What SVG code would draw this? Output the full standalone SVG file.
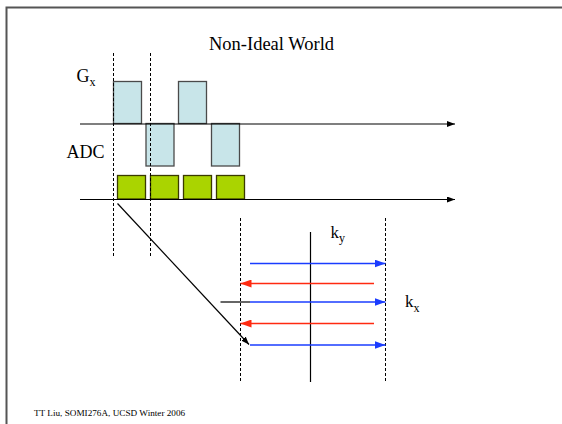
<svg xmlns="http://www.w3.org/2000/svg" width="562" height="424" viewBox="0 0 562 424">
  <defs>
    <marker id="arrBlack" markerWidth="8" markerHeight="6" refX="8" refY="3" orient="auto" markerUnits="userSpaceOnUse">
      <path d="M0,0 L8,3 L0,6 Z" fill="#000"/>
    </marker>
    <marker id="arrBlue" markerWidth="11" markerHeight="8" refX="11" refY="4" orient="auto" markerUnits="userSpaceOnUse">
      <path d="M0,0 L11,4 L0,8 Z" fill="#1a3cff"/>
    </marker>
    <marker id="arrRed" markerWidth="11" markerHeight="8" refX="11" refY="4" orient="auto" markerUnits="userSpaceOnUse">
      <path d="M0,0 L11,4 L0,8 Z" fill="#ff2a10"/>
    </marker>
    <style>
      text { font-family: "Liberation Serif", "Times New Roman", serif; fill: #000; }
      .grad { fill: #c8e5e9; stroke: #4a4a4a; stroke-width: 1.3; }
      .adc { fill: #aad400; stroke: #3a3a00; stroke-width: 1.3; }
      .axis { stroke: #000; stroke-width: 1.2; fill: none; }
      .dash { stroke: #000; stroke-width: 1; stroke-dasharray: 3 2; fill: none; }
      .blue { stroke: #1a3cff; stroke-width: 1.6; fill: none; marker-end: url(#arrBlue); }
      .red { stroke: #ff2a10; stroke-width: 1.6; fill: none; marker-end: url(#arrRed); }
      .frame { stroke: #555; stroke-width: 2; fill: none; }
    </style>
  </defs>

  <rect x="0" y="0" width="562" height="424" fill="#fff"/>

  <!-- slide frame -->
  <path class="frame" d="M6.5,424 L6.5,7.5 L562,7.5"/>

  <!-- title -->
  <text font-family="Liberation Serif, serif" x="271.5" y="50" font-size="18.5" text-anchor="middle">Non-Ideal World</text>

  <!-- labels -->
  <g id="label-gx">
    <text font-family="Liberation Serif, serif" x="76.5" y="82" font-size="18">G<tspan font-size="12" dy="4">x</tspan></text>
  </g>
  <g id="label-adc">
    <text font-family="Liberation Serif, serif" x="66.5" y="157.5" font-size="18">ADC</text>
  </g>

  <!-- gradient lobes -->
  <g id="gx-pulses">
    <rect class="grad" x="113.5" y="81.5" width="28" height="42"/>
    <rect class="grad" x="146" y="123.5" width="28" height="42.5"/>
    <rect class="grad" x="178.5" y="81.5" width="28" height="42"/>
    <rect class="grad" x="211.5" y="123.5" width="28" height="42.5"/>
  </g>

  <!-- ADC windows -->
  <g id="adc-windows">
    <rect class="adc" x="117.5" y="175.5" width="28" height="23.5"/>
    <rect class="adc" x="150.5" y="175.5" width="28" height="23.5"/>
    <rect class="adc" x="183.5" y="175.5" width="28" height="23.5"/>
    <rect class="adc" x="216.5" y="175.5" width="28" height="23.5"/>
  </g>

  <g id="connectors">
    <!-- time axes -->
    <line class="axis" x1="80" y1="124" x2="455" y2="124" stroke="#666" marker-end="url(#arrBlack)"/>
    <line class="axis" x1="80" y1="199.5" x2="455" y2="199.5" marker-end="url(#arrBlack)"/>

    <!-- timing markers -->
    <line class="dash" x1="113.5" y1="53" x2="113.5" y2="256"/>
    <line class="dash" x1="150.5" y1="53" x2="150.5" y2="256"/>
    <line class="dash" x1="240.5" y1="218" x2="240.5" y2="382"/>
    <line class="dash" x1="385.5" y1="218" x2="385.5" y2="382"/>

    <!-- k-space axes -->
    <line class="axis" x1="310.5" y1="232" x2="310.5" y2="382"/>
    <line class="axis" x1="220.5" y1="302" x2="250" y2="302"/>

    <!-- mapping arrow -->
    <line class="axis" x1="117.5" y1="203.5" x2="249" y2="344.5" stroke-width="1" marker-end="url(#arrBlack)"/>

    <!-- k-space trajectory -->
    <line class="blue" x1="250" y1="263.5" x2="385.5" y2="263.5"/>
    <line class="red" x1="374" y1="283.5" x2="240.5" y2="283.5"/>
    <line class="blue" x1="250" y1="302" x2="385.5" y2="302"/>
    <line class="red" x1="374" y1="323.5" x2="240.5" y2="323.5"/>
    <line class="blue" x1="250" y1="345" x2="385.5" y2="345"/>
  </g>

  <g id="label-ky">
    <text font-family="Liberation Serif, serif" x="330.5" y="238" font-size="17">k<tspan font-size="12" dy="4">y</tspan></text>
  </g>
  <g id="label-kx">
    <text font-family="Liberation Serif, serif" x="405" y="307" font-size="17">k<tspan font-size="12" dy="5">x</tspan></text>
  </g>

  <!-- footer -->
  <text font-family="Liberation Serif, serif" x="34" y="416" font-size="9.2">TT Liu, SOMI276A, UCSD Winter 2006</text>
</svg>
